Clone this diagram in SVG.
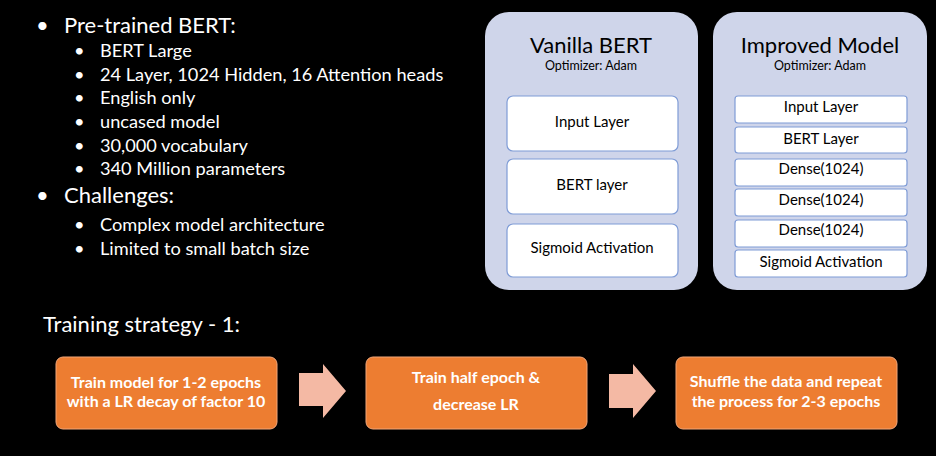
<svg xmlns="http://www.w3.org/2000/svg" width="936" height="456" viewBox="0 0 936 456">
<style>
text{font-family:Lato,"Open Sans","Liberation Sans",sans-serif}
.w{fill:#fff}
.h1{font-size:22px}
.h2{font-size:18.2px}
.panel{fill:#CFD5EA}
.layer{fill:#fff;stroke:#7F9CD6;stroke-width:1.2}
.lt{font-size:15px;fill:#000;text-anchor:middle}
.title{font-size:22px;fill:#000;text-anchor:middle}
.opt{font-size:12.5px;fill:#000;text-anchor:middle}
.step{fill:#ED7D31;stroke:#F2A679;stroke-width:1}
.st{font-size:16px;font-weight:bold;fill:#fff;text-anchor:middle}
.arr{fill:#F4B9A4}
</style>
<rect width="936" height="456" fill="#000"/>
<g id="bullets" class="w">
<text class="h1" x="36" y="33">•</text><text class="h1" x="64" y="33">Pre-trained BERT:</text>
<text class="h2" x="74" y="57">•</text><text class="h2" x="100" y="57">BERT Large</text>
<text class="h2" x="74" y="81">•</text><text class="h2" x="100" y="81">24 Layer, 1024 Hidden, 16 Attention heads</text>
<text class="h2" x="74" y="104">•</text><text class="h2" x="100" y="104">English only</text>
<text class="h2" x="74" y="128">•</text><text class="h2" x="100" y="128">uncased model</text>
<text class="h2" x="74" y="152">•</text><text class="h2" x="100" y="152">30,000 vocabulary</text>
<text class="h2" x="74" y="175">•</text><text class="h2" x="100" y="175">340 Million parameters</text>
<text class="h1" x="36" y="203">•</text><text class="h1" x="64" y="203">Challenges:</text>
<text class="h2" x="74" y="231">•</text><text class="h2" x="100" y="231">Complex model architecture</text>
<text class="h2" x="74" y="255">•</text><text class="h2" x="100" y="255">Limited to small batch size</text>
</g>
<g id="vanilla">
<rect class="panel" x="485" y="12" width="213" height="278" rx="24"/>
<text class="title" x="591" y="53">Vanilla BERT</text>
<text class="opt" x="591" y="70">Optimizer: Adam</text>
<rect class="layer" x="507" y="96" width="171" height="55" rx="6"/>
<text class="lt" x="592" y="127">Input Layer</text>
<rect class="layer" x="507" y="159" width="171" height="55" rx="6"/>
<text class="lt" x="592" y="190">BERT layer</text>
<rect class="layer" x="507" y="224" width="171" height="53" rx="6"/>
<text class="lt" x="592" y="253">Sigmoid Activation</text>
</g>
<g id="improved">
<rect class="panel" x="713" y="12" width="214" height="278" rx="24"/>
<text class="title" x="820" y="53">Improved Model</text>
<text class="opt" x="820" y="70">Optimizer: Adam</text>
<rect class="layer" x="735" y="96" width="172" height="27" rx="3"/>
<text class="lt" x="821" y="112">Input Layer</text>
<rect class="layer" x="735" y="127" width="172" height="26" rx="3"/>
<text class="lt" x="821" y="144">BERT Layer</text>
<rect class="layer" x="735" y="159" width="172" height="27" rx="3"/>
<text class="lt" x="821" y="174">Dense(1024)</text>
<rect class="layer" x="735" y="189" width="172" height="27" rx="3"/>
<text class="lt" x="821" y="205">Dense(1024)</text>
<rect class="layer" x="735" y="220" width="172" height="27" rx="3"/>
<text class="lt" x="821" y="235">Dense(1024)</text>
<rect class="layer" x="735" y="250" width="172" height="27" rx="3"/>
<text class="lt" x="821" y="267">Sigmoid Activation</text>
</g>
<text class="w h1" x="43" y="332">Training strategy - 1:</text>
<g id="step1">
<rect class="step" x="56" y="357" width="221" height="72" rx="7"/>
<text class="st" x="166" y="388">Train model for 1-2 epochs</text>
<text class="st" x="166" y="407">with a LR decay of factor 10</text>
</g>
<g id="step2">
<rect class="step" x="366" y="357" width="221" height="72" rx="7"/>
<text class="st" x="476" y="383">Train half epoch &amp;</text>
<text class="st" x="476" y="410">decrease LR</text>
</g>
<g id="step3">
<rect class="step" x="676" y="357" width="221" height="72" rx="7"/>
<text class="st" x="786" y="387">Shuffle the data and repeat</text>
<text class="st" x="786" y="407">the process for 2-3 epochs</text>
</g>
<g id="connectors">
<polygon class="arr" points="299,373 323,373 323,364 346,391 323,418 323,406 299,406"/>
<polygon class="arr" points="609,374 633,374 633,364 656,391 633,418 633,408 609,408"/>
</g>
</svg>
